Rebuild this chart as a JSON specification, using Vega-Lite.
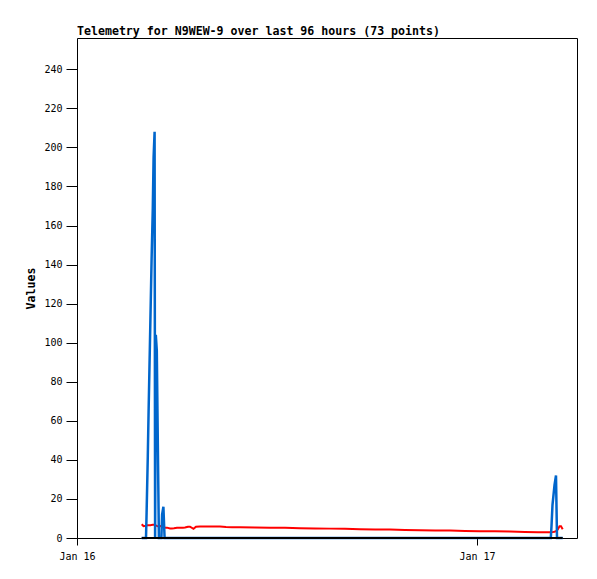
{
  "$schema": "https://vega.github.io/schema/vega-lite/v6.json",
  "width": 500,
  "height": 500,
  "autosize": {"type": "none"},
  "padding": {"left": 77, "top": 38, "right": 20, "bottom": 41},
  "background": "white",
  "title": {
    "text": "Telemetry for N9WEW-9 over last 96 hours (73 points)",
    "anchor": "start",
    "frame": "group",
    "font": "DejaVu Sans Mono",
    "fontSize": 11.6,
    "fontWeight": "bold",
    "color": "black",
    "offset": 0
  },
  "config": {
    "view": {"stroke": "black", "strokeWidth": 1},
    "axis": {
      "grid": false,
      "domainColor": "black",
      "tickColor": "black",
      "labelColor": "black",
      "labelFont": "DejaVu Sans Mono",
      "labelFontSize": 10,
      "titleFont": "DejaVu Sans Mono",
      "titleFontSize": 11.6,
      "titleFontWeight": "bold",
      "titleColor": "black"
    }
  },
  "data": {
    "values": [
      {"t": "2024-01-16T03:52:55Z", "blue": 0, "red": 7.0, "black": 0},
      {"t": "2024-01-16T03:59:24Z", "blue": 0, "red": 6.1, "black": 0},
      {"t": "2024-01-16T04:08:24Z", "blue": 0, "red": 6.3, "black": 0},
      {"t": "2024-01-16T04:10:34Z", "blue": 13, "red": 6.4, "black": 0},
      {"t": "2024-01-16T04:14:53Z", "blue": 42, "red": 6.5, "black": 0},
      {"t": "2024-01-16T04:17:46Z", "blue": 65, "red": 6.5, "black": 0},
      {"t": "2024-01-16T04:21:22Z", "blue": 91, "red": 6.5, "black": 0},
      {"t": "2024-01-16T04:24:58Z", "blue": 117, "red": 6.5, "black": 0},
      {"t": "2024-01-16T04:28:34Z", "blue": 143, "red": 6.7, "black": 0},
      {"t": "2024-01-16T04:32:53Z", "blue": 169, "red": 6.8, "black": 0},
      {"t": "2024-01-16T04:35:46Z", "blue": 195, "red": 6.8, "black": 0},
      {"t": "2024-01-16T04:39:22Z", "blue": 208, "red": 6.8, "black": 0},
      {"t": "2024-01-16T04:41:10Z", "blue": 0, "red": 6.6, "black": 0},
      {"t": "2024-01-16T04:43:41Z", "blue": 104, "red": 6.4, "black": 0},
      {"t": "2024-01-16T04:47:17Z", "blue": 96, "red": 6.2, "black": 0},
      {"t": "2024-01-16T04:51:14Z", "blue": 45, "red": 6.0, "black": 0},
      {"t": "2024-01-16T04:54:50Z", "blue": 0, "red": 6.0, "black": 0},
      {"t": "2024-01-16T05:03:50Z", "blue": 0, "red": 6.1, "black": 0},
      {"t": "2024-01-16T05:06:22Z", "blue": 12, "red": 6.0, "black": 0},
      {"t": "2024-01-16T05:11:02Z", "blue": 16, "red": 5.8, "black": 0},
      {"t": "2024-01-16T05:15:22Z", "blue": 0, "red": 5.4, "black": 0},
      {"t": "2024-01-16T05:19:41Z", "blue": 0, "red": 5.3, "black": 0},
      {"t": "2024-01-16T05:24:00Z", "blue": 0, "red": 5.3, "black": 0},
      {"t": "2024-01-16T05:34:48Z", "blue": 0, "red": 4.9, "black": 0},
      {"t": "2024-01-16T05:42:00Z", "blue": 0, "red": 4.9, "black": 0},
      {"t": "2024-01-16T05:49:12Z", "blue": 0, "red": 5.0, "black": 0},
      {"t": "2024-01-16T06:00:00Z", "blue": 0, "red": 5.3, "black": 0},
      {"t": "2024-01-16T06:10:48Z", "blue": 0, "red": 5.3, "black": 0},
      {"t": "2024-01-16T06:21:36Z", "blue": 0, "red": 5.3, "black": 0},
      {"t": "2024-01-16T06:28:48Z", "blue": 0, "red": 5.4, "black": 0},
      {"t": "2024-01-16T06:39:36Z", "blue": 0, "red": 5.8, "black": 0},
      {"t": "2024-01-16T06:46:48Z", "blue": 0, "red": 5.8, "black": 0},
      {"t": "2024-01-16T06:59:24Z", "blue": 0, "red": 4.7, "black": 0},
      {"t": "2024-01-16T07:08:24Z", "blue": 0, "red": 5.8, "black": 0},
      {"t": "2024-01-16T07:22:48Z", "blue": 0, "red": 5.9, "black": 0},
      {"t": "2024-01-16T07:40:48Z", "blue": 0, "red": 5.9, "black": 0},
      {"t": "2024-01-16T07:58:48Z", "blue": 0, "red": 5.9, "black": 0},
      {"t": "2024-01-16T08:16:48Z", "blue": 0, "red": 5.9, "black": 0},
      {"t": "2024-01-16T08:34:48Z", "blue": 0, "red": 5.9, "black": 0},
      {"t": "2024-01-16T08:56:24Z", "blue": 0, "red": 5.6, "black": 0},
      {"t": "2024-01-16T09:18:00Z", "blue": 0, "red": 5.5, "black": 0},
      {"t": "2024-01-16T09:46:48Z", "blue": 0, "red": 5.5, "black": 0},
      {"t": "2024-01-16T10:40:48Z", "blue": 0, "red": 5.4, "black": 0},
      {"t": "2024-01-16T11:34:48Z", "blue": 0, "red": 5.3, "black": 0},
      {"t": "2024-01-16T12:28:48Z", "blue": 0, "red": 5.2, "black": 0},
      {"t": "2024-01-16T13:22:48Z", "blue": 0, "red": 5.0, "black": 0},
      {"t": "2024-01-16T14:16:48Z", "blue": 0, "red": 4.9, "black": 0},
      {"t": "2024-01-16T15:10:48Z", "blue": 0, "red": 4.8, "black": 0},
      {"t": "2024-01-16T16:04:48Z", "blue": 0, "red": 4.7, "black": 0},
      {"t": "2024-01-16T16:58:48Z", "blue": 0, "red": 4.5, "black": 0},
      {"t": "2024-01-16T17:52:48Z", "blue": 0, "red": 4.4, "black": 0},
      {"t": "2024-01-16T18:46:48Z", "blue": 0, "red": 4.3, "black": 0},
      {"t": "2024-01-16T19:40:48Z", "blue": 0, "red": 4.1, "black": 0},
      {"t": "2024-01-16T20:34:48Z", "blue": 0, "red": 4.0, "black": 0},
      {"t": "2024-01-16T21:28:48Z", "blue": 0, "red": 3.9, "black": 0},
      {"t": "2024-01-16T22:22:48Z", "blue": 0, "red": 3.8, "black": 0},
      {"t": "2024-01-16T23:16:48Z", "blue": 0, "red": 3.6, "black": 0},
      {"t": "2024-01-17T00:10:48Z", "blue": 0, "red": 3.5, "black": 0},
      {"t": "2024-01-17T01:04:48Z", "blue": 0, "red": 3.4, "black": 0},
      {"t": "2024-01-17T01:58:48Z", "blue": 0, "red": 3.3, "black": 0},
      {"t": "2024-01-17T02:52:48Z", "blue": 0, "red": 3.1, "black": 0},
      {"t": "2024-01-17T03:39:36Z", "blue": 0, "red": 3.0, "black": 0},
      {"t": "2024-01-17T04:15:36Z", "blue": 0, "red": 2.9, "black": 0},
      {"t": "2024-01-17T04:25:41Z", "blue": 0, "red": 2.9, "black": 0},
      {"t": "2024-01-17T04:28:12Z", "blue": 6, "red": 2.9, "black": 0},
      {"t": "2024-01-17T04:31:48Z", "blue": 17, "red": 3.0, "black": 0},
      {"t": "2024-01-17T04:39:00Z", "blue": 27, "red": 3.2, "black": 0},
      {"t": "2024-01-17T04:44:24Z", "blue": 32, "red": 3.5, "black": 0},
      {"t": "2024-01-17T04:48:00Z", "blue": 0, "red": 4.0, "black": 0},
      {"t": "2024-01-17T04:50:31Z", "blue": 0, "red": 4.3, "black": 0},
      {"t": "2024-01-17T04:57:00Z", "blue": 0, "red": 6.0, "black": 0},
      {"t": "2024-01-17T05:02:24Z", "blue": 0, "red": 6.0, "black": 0},
      {"t": "2024-01-17T05:08:31Z", "blue": 0, "red": 4.5, "black": 0}
    ]
  },
  "encoding": {
    "x": {
      "field": "t",
      "type": "temporal",
      "scale": {"type": "utc", "domain": [1705363200000, 1705471200000], "nice": false},
      "axis": {
        "title": null,
        "values": [1705363200000, 1705449600000],
        "labelExpr": "utcFormat(datum.value, '%b %d')",
        "labelAlign": "center",
        "tickSize": 7,
        "labelPadding": 6,
        "domain": false
      }
    }
  },
  "layer": [
    {
      "mark": {"type": "line", "color": "#FF0000", "strokeWidth": 2},
      "encoding": {
        "y": {
          "field": "red",
          "type": "quantitative",
          "scale": {"domain": [0, 256], "nice": false},
          "axis": {
            "title": "Values",
            "values": [0, 20, 40, 60, 80, 100, 120, 140, 160, 180, 200, 220, 240],
            "tickSize": 11,
            "labelPadding": 4,
            "titlePadding": 7,
            "domain": false
          }
        }
      }
    },
    {
      "mark": {"type": "line", "color": "#0066CC", "strokeWidth": 2.5},
      "encoding": {"y": {"field": "blue", "type": "quantitative"}}
    },
    {
      "mark": {"type": "line", "color": "#000000", "strokeWidth": 2},
      "encoding": {"y": {"field": "black", "type": "quantitative"}}
    }
  ]
}
